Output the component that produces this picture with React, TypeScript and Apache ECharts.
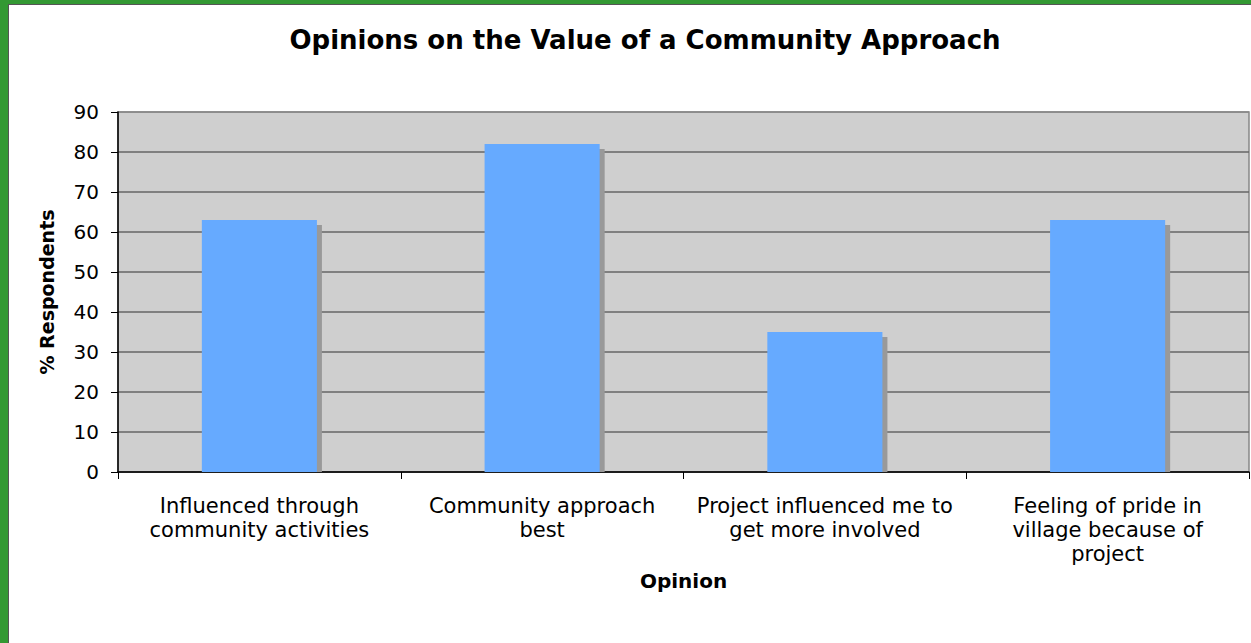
import React, { useEffect, useRef } from "react";
import * as echarts from "echarts";

const categories = [
  "Influenced through\ncommunity activities",
  "Community approach\nbest",
  "Project influenced me to\nget more involved",
  "Feeling of pride in\nvillage because of\nproject",
];
const values = [63, 82, 35, 63];
const titleText = "Opinions on the Value of a Community Approach";
const yName = "% Respondents";
const xName = "Opinion";

const FONT = "'DejaVu Sans', Verdana, sans-serif";

export default function App() {
  const ref = useRef<HTMLDivElement>(null);
  useEffect(() => {
    document.body.style.margin = "0";
    const chart = echarts.init(ref.current!, null, { renderer: "svg" });
    const gridColors = ["#666", "#666", "#666", "#666", "#666", "#666", "#666", "#666", "#666", "#888"];
    chart.setOption({
      animation: false,
      backgroundColor: "#fff",
      textStyle: { fontFamily: FONT, color: "#000" },
      title: {
        text: titleText,
        left: 640,
        top: 22,
        textAlign: "center",
        textStyle: { fontFamily: FONT, fontWeight: "bold", fontSize: 26, color: "#000" },
      },
      graphic: [
        { type: "rect", shape: { x: 0, y: 0, width: 8, height: 643 }, style: { fill: "#339933" }, silent: true },
        { type: "rect", shape: { x: 0, y: 0, width: 1251, height: 4 }, style: { fill: "#339933" }, silent: true },
        { type: "line", shape: { x1: 8.5, y1: 4, x2: 8.5, y2: 643 }, style: { stroke: "#555", lineWidth: 1 }, silent: true },
        { type: "line", shape: { x1: 8, y1: 4.5, x2: 1251, y2: 4.5 }, style: { stroke: "#555", lineWidth: 1 }, silent: true },
      ],
      grid: {
        left: 118,
        right: 2,
        top: 112,
        bottom: 171,
        show: true,
        backgroundColor: "#CFCFCF",
        borderColor: "#888",
        borderWidth: 1.5,
      },
      xAxis: {
        type: "category",
        data: categories,
        name: xName,
        nameLocation: "middle",
        nameGap: 92,
        nameTextStyle: { fontFamily: FONT, fontWeight: "bold", fontSize: 20, color: "#000" },
        axisLine: { lineStyle: { color: "#000", width: 1.5 } },
        axisTick: { show: true, interval: 0, length: 7, lineStyle: { color: "#000", width: 1 } },
        axisLabel: {
          interval: 0,
          fontFamily: FONT,
          fontSize: 21,
          color: "#000",
          lineHeight: 24,
          margin: 22,
        },
      },
      yAxis: {
        type: "value",
        min: 0,
        max: 90,
        interval: 10,
        name: yName,
        nameLocation: "middle",
        nameGap: 62,
        nameTextStyle: { fontFamily: FONT, fontWeight: "bold", fontSize: 19, color: "#000" },
        axisLine: { show: true, lineStyle: { color: "#000", width: 1.5 } },
        axisTick: { show: true, length: 7, lineStyle: { color: "#000", width: 1 } },
        axisLabel: { fontFamily: FONT, fontSize: 20, color: "#000", margin: 19 },
        splitLine: { show: true, lineStyle: { color: gridColors, width: 1.5 } },
      },
      series: [
        {
          type: "custom",
          data: values.map((v, i) => [i, v]),
          encode: { x: 0, y: 1 },
          renderItem: (params: any, api: any) => {
            const idx = api.value(0);
            const val = api.value(1);
            const top = api.coord([idx, val]);
            const base = api.coord([idx, 0]);
            const band = api.size([1, 0])[0];
            const w = band * 0.407;
            const x = top[0] - w / 2;
            const h = base[1] - top[1];
            return {
              type: "group",
              children: [
                {
                  type: "rect",
                  shape: { x: x + 5, y: top[1] + 5, width: w, height: h - 5 },
                  style: { fill: "#999999" },
                },
                {
                  type: "rect",
                  shape: { x, y: top[1], width: w, height: h },
                  style: { fill: "#66AAFF" },
                },
              ],
            };
          },
        },
      ],
    });
    return () => chart.dispose();
  }, []);
  return <div ref={ref} style={{ position: "fixed", left: 0, top: 0, width: 1251, height: 643 }} />;
}
